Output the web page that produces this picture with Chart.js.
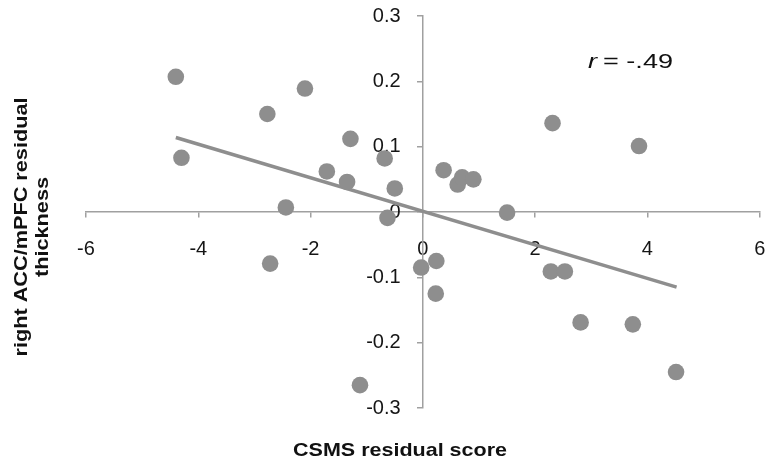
<!DOCTYPE html>
<html lang="en">
<head>
<meta charset="UTF-8">
<title>CSMS vs ACC/mPFC thickness</title>
<script src="https://cdn.jsdelivr.net/npm/chart.js"></script>
<style>
    html, body { margin: 0; padding: 0; background: #fff; }
    #wrap { width: 768px; height: 466px; }
</style>
</head>
<body>
<div id="wrap"><canvas id="myChart" width="768" height="466"></canvas></div>
<script>
    // CSMS residual score (x) vs right ACC/mPFC residual thickness (y)
    const csmsScore = [-4.40, -4.30, -2.77, -2.10, -1.29, -1.71, -1.35, -0.68, -0.50, -2.44,
        -0.63, 0.37, 0.62, 0.70, 0.90, 1.50, 2.31, 3.85, -2.72, -0.03,
        0.24, 0.23, -1.12, 2.28, 2.53, 2.81, 3.74, 4.51];
    const thickness = [0.207, 0.083, 0.150, 0.189, 0.112, 0.062, 0.046, 0.082, 0.036, 0.007,
        -0.009, 0.064, 0.042, 0.053, 0.050, -0.001, 0.136, 0.101, -0.079, -0.085,
        -0.075, -0.125, -0.265, -0.091, -0.091, -0.169, -0.172, -0.245];

    // fitted line end points
    const trendX = [-4.40, 4.52];
    const trendY = [0.114, -0.115];

    const xTicks = [-6, -4, -2, 0, 2, 4, 6];
    const yTicks = [-0.3, -0.2, -0.1, 0, 0.1, 0.2, 0.3];

    const gray = '#8e8e8e';
    const axisGray = '#a0a0a0';
    const fontFamily = '"Liberation Sans", Arial, sans-serif';

    const points = csmsScore.map((x, i) => ({ x: x, y: thickness[i] }));
    const trend = trendX.map((x, i) => ({ x: x, y: trendY[i] }));

    // draws text stretched to a given width (the original figure's font is wide)
    function wideText(c, txt, x, y, w) {
        const m = c.measureText(txt).width;
        c.save();
        c.translate(x, y);
        c.scale(w / m, 1);
        c.fillText(txt, 0, 0);
        c.restore();
    }

    // axis titles and r value
    const textPlugin = {
        id: 'chartText',
        afterDraw(chart) {
            const c = chart.ctx;
            c.save();
            c.fillStyle = '#111';
            c.textBaseline = 'middle';
            c.textAlign = 'center';
            c.font = 'bold 19px ' + fontFamily;
            wideText(c, 'CSMS residual score', 400, 451, 214);

            c.translate(32, 227);
            c.rotate(-Math.PI / 2);
            wideText(c, 'right ACC/mPFC residual', 0, -10, 259);
            wideText(c, 'thickness', 0, 11, 100);
            c.restore();

            c.save();
            c.fillStyle = '#111';
            c.textBaseline = 'middle';
            c.textAlign = 'left';
            c.font = 'italic 20px ' + fontFamily;
            wideText(c, 'r', 588, 62, 9);
            c.font = '20px ' + fontFamily;
            wideText(c, '= -.49', 603, 62, 70);
            c.restore();
        }
    };

    const noPad = (s) => {
        s.paddingLeft = 0; s.paddingRight = 0; s.paddingTop = 0; s.paddingBottom = 0;
    };

    const ctx = document.getElementById('myChart').getContext('2d');
    new Chart(ctx, {
        type: 'scatter',
        data: {
            datasets: [
                {
                    label: 'trend',
                    type: 'line',
                    data: trend,
                    borderColor: gray,
                    borderWidth: 3.5,
                    pointRadius: 0,
                    fill: false,
                    order: 2
                },
                {
                    label: 'subjects',
                    data: points,
                    backgroundColor: gray,
                    borderWidth: 0,
                    pointRadius: 8.3,
                    pointHoverRadius: 8.3,
                    order: 1
                }
            ]
        },
        options: {
            responsive: false,
            animation: false,
            layout: { padding: { left: 86, right: 5, top: 16, bottom: 58 } },
            plugins: {
                legend: { display: false },
                tooltip: { enabled: false }
            },
            scales: {
                x: {
                    type: 'linear',
                    position: { y: 0 },
                    min: -6,
                    max: 6,
                    afterBuildTicks: (s) => { s.ticks = xTicks.map(v => ({ value: v })); },
                    afterFit: noPad,
                    grid: { drawOnChartArea: false, drawTicks: true, tickLength: 5, color: axisGray, lineWidth: 1.5 },
                    border: { display: true, color: axisGray, width: 1.5 },
                    ticks: {
                        color: '#151515',
                        padding: 20,
                        maxRotation: 0,
                        font: { family: fontFamily, size: 20 }
                    }
                },
                y: {
                    type: 'linear',
                    position: { x: 0 },
                    min: -0.3,
                    max: 0.3,
                    afterBuildTicks: (s) => { s.ticks = yTicks.map(v => ({ value: v })); },
                    afterFit: noPad,
                    grid: { drawOnChartArea: false, drawTicks: true, tickLength: 5, color: axisGray, lineWidth: 1.5 },
                    border: { display: true, color: axisGray, width: 1.5 },
                    ticks: {
                        color: '#151515',
                        // labels sit on the axis line when it is centred, so pad them with spaces
                        callback: (v) => (Math.abs(v) < 1e-9 ? '0' : String(Math.round(v * 10) / 10)) + '    ',
                        font: { family: fontFamily, size: 20 }
                    }
                }
            }
        },
        plugins: [textPlugin]
    });
</script>
</body>
</html>
